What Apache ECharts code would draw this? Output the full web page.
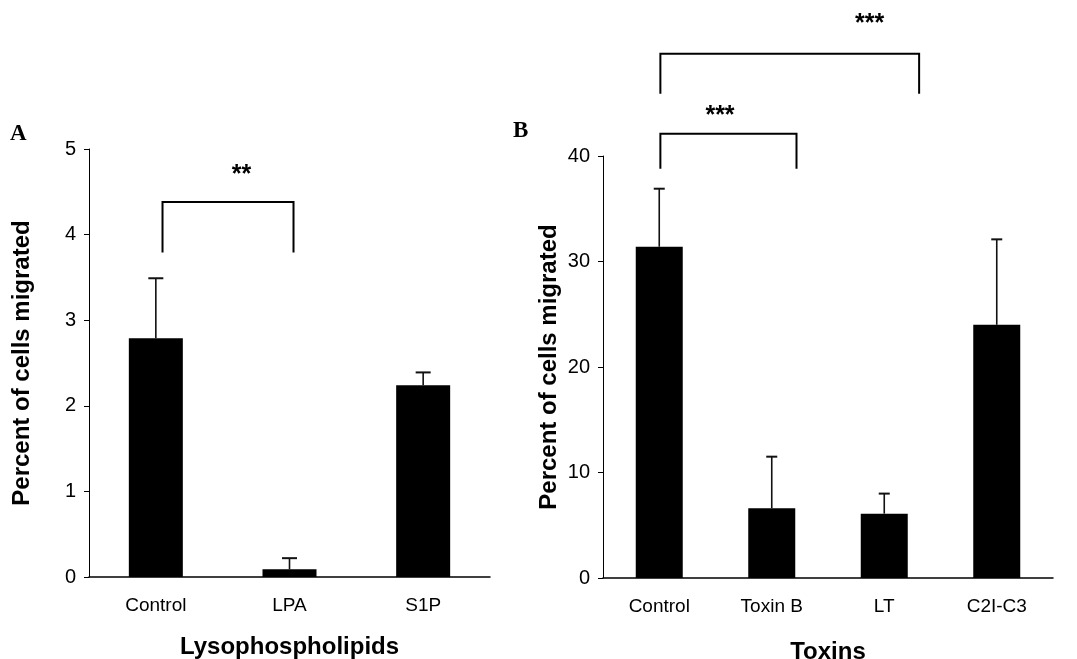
<!DOCTYPE html>
<html>
<head>
<meta charset="utf-8">
<script src="https://cdn.jsdelivr.net/npm/echarts@6/dist/echarts.min.js"></script>
<style>html,body{margin:0;padding:0;background:#fff;}#c{width:1077px;height:659px;}</style>
</head>
<body>
<div id="c"></div>
<script>
// Panel A data
const catsA = ['Control', 'LPA', 'S1P'];
const valsA = [2.79, 0.09, 2.24];
const errTopA = [3.49, 0.22, 2.39];
const ticksA = [0, 1, 2, 3, 4, 5];
// bracket: [xStart, xEnd, yBottom, yTop] in category units
const bracketsA = [[0.05, 1.03, 3.79, 4.38]];
const starsA = [[0.64, 4.70, '**']];

// Panel B data
const catsB = ['Control', 'Toxin B', 'LT', 'C2I-C3'];
const valsB = [31.4, 6.6, 6.1, 24.0];
const errTopB = [36.9, 11.5, 8.0, 32.1];
const ticksB = [0, 10, 20, 30, 40];
const bracketsB = [[0.01, 1.22, 38.8, 42.1], [0.01, 2.31, 45.9, 49.7]];
const starsB = [[0.54, 43.8, '***'], [1.87, 52.5, '***']];

const FONT = '"Liberation Sans", Arial, sans-serif';
const chart = echarts.init(document.getElementById('c'), null, {renderer: 'canvas'});

function yAxisCfg(gi, max, interval, gap) {
  return {
    type: 'value', gridIndex: gi, min: 0, max: max, interval: interval,
    name: 'Percent of cells migrated', nameLocation: 'middle', nameRotate: 90, nameGap: gap,
    nameTextStyle: {fontFamily: FONT, fontWeight: 'bold', fontSize: 24, color: '#000'},
    axisLine: {show: true, onZero: false, lineStyle: {color: '#000', width: 1}},
    axisTick: {show: true, inside: false, length: 5, lineStyle: {color: '#000'}},
    splitLine: {show: false},
    axisLabel: {fontFamily: FONT, fontSize: 20, color: '#000', margin: 13}
  };
}
function xCatCfg(gi, cats, name, gap) {
  return {
    type: 'category', gridIndex: gi, data: cats,
    name: name, nameLocation: 'middle', nameGap: gap,
    nameTextStyle: {fontFamily: FONT, fontWeight: 'bold', fontSize: 24, color: '#000'},
    axisLine: {show: true, onZero: false, lineStyle: {color: '#000', width: 1.5}},
    axisTick: {show: false},
    axisLabel: {fontFamily: FONT, fontSize: 19, color: '#000', margin: 19}
  };
}
function xValCfg(gi, n) {
  return {type: 'value', gridIndex: gi, min: -0.5, max: n - 0.5, show: false, splitLine: {show: false}};
}

function errSeries(xi, yi, tops, vals, cap) {
  return {
    type: 'custom', xAxisIndex: xi, yAxisIndex: yi, z: 3,
    data: tops.map((t, i) => [i, vals[i], t]),
    renderItem: function (params, api) {
      const p0 = api.coord([api.value(0), api.value(1)]);
      const p1 = api.coord([api.value(0), api.value(2)]);
      return {type: 'group', children: [
        {type: 'line', shape: {x1: p0[0], y1: p0[1], x2: p1[0], y2: p1[1]}, style: {stroke: '#111', lineWidth: 1.6}},
        {type: 'line', shape: {x1: p1[0] - cap / 2, y1: p1[1], x2: p1[0] + cap / 2, y2: p1[1]}, style: {stroke: '#111', lineWidth: 2}}
      ]};
    }
  };
}
function bracketSeries(xi, yi, br) {
  return {
    type: 'custom', xAxisIndex: xi, yAxisIndex: yi, clip: false, z: 4,
    data: br,
    renderItem: function (params, api) {
      const a = api.coord([api.value(0), api.value(2)]);
      const b = api.coord([api.value(0), api.value(3)]);
      const c = api.coord([api.value(1), api.value(3)]);
      const d = api.coord([api.value(1), api.value(2)]);
      return {type: 'polyline', shape: {points: [a, b, c, d]}, style: {stroke: '#000', lineWidth: 2, fill: null}};
    }
  };
}
function starSeries(xi, yi, st) {
  return {
    type: 'custom', xAxisIndex: xi, yAxisIndex: yi, clip: false, z: 4,
    data: st,
    renderItem: function (params, api) {
      const p = api.coord([api.value(0), api.value(1)]);
      return {type: 'text', x: p[0], y: p[1], style: {text: st[params.dataIndex][2], fontFamily: FONT, fontWeight: 'bold', fontSize: 25, fill: '#000', align: 'center', verticalAlign: 'middle'}};
    }
  };
}

chart.setOption({
  backgroundColor: '#fff',
  animation: false,
  grid: [
    {left: 89, top: 149, width: 401, height: 428, outerBoundsMode: 'none', containLabel: false},
    {left: 603, top: 156, width: 450, height: 422, outerBoundsMode: 'none', containLabel: false}
  ],
  xAxis: [
    xCatCfg(0, catsA, 'Lysophospholipids', 58),
    xCatCfg(1, catsB, 'Toxins', 62),
    xValCfg(0, catsA.length),
    xValCfg(1, catsB.length)
  ],
  yAxis: [
    yAxisCfg(0, ticksA[ticksA.length - 1], ticksA[1] - ticksA[0], 55),
    yAxisCfg(1, ticksB[ticksB.length - 1], ticksB[1] - ticksB[0], 42)
  ],
  graphic: [
    {type: 'text', left: 10, top: 123, style: {text: 'A', fontFamily: '"Liberation Serif", "Times New Roman", serif', fontWeight: 'bold', fontSize: 23, fill: '#000'}},
    {type: 'text', left: 513, top: 120, style: {text: 'B', fontFamily: '"Liberation Serif", "Times New Roman", serif', fontWeight: 'bold', fontSize: 23, fill: '#000'}}
  ],
  series: [
    {type: 'bar', xAxisIndex: 0, yAxisIndex: 0, data: valsA, barWidth: 54, itemStyle: {color: '#000'}, z: 2},
    {type: 'bar', xAxisIndex: 1, yAxisIndex: 1, data: valsB, barWidth: 47, itemStyle: {color: '#000'}, z: 2},
    errSeries(0, 0, errTopA, valsA, 15),
    errSeries(1, 1, errTopB, valsB, 11),
    bracketSeries(2, 0, bracketsA),
    bracketSeries(3, 1, bracketsB),
    starSeries(2, 0, starsA),
    starSeries(3, 1, starsB)
  ]
});
</script>
</body>
</html>
